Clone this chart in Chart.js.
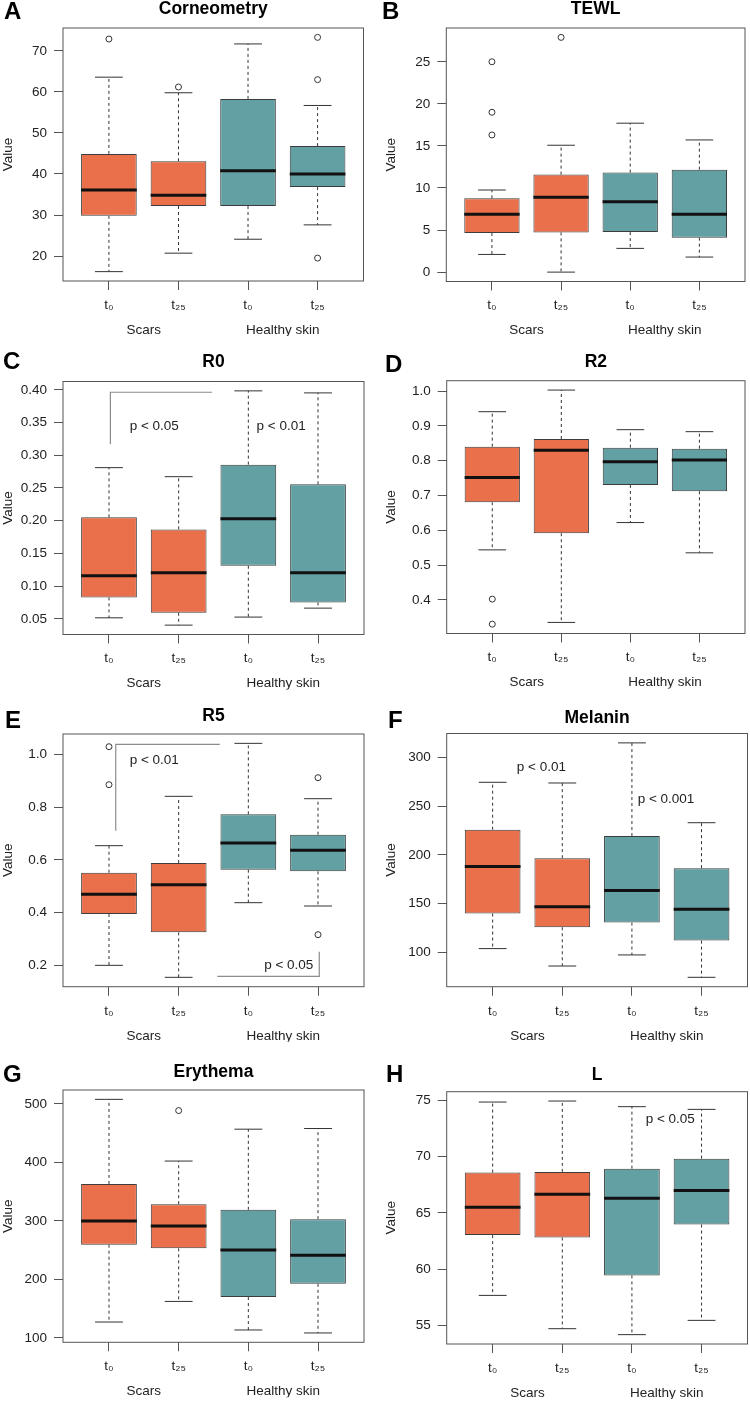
<!DOCTYPE html>
<html><head><meta charset="utf-8">
<script src="https://cdn.jsdelivr.net/npm/chart.js@4.4.1/dist/chart.umd.min.js"></script>
<style>
html,body{margin:0;padding:0;background:#fff;}
body{width:750px;height:1402px;position:relative;overflow:hidden;}
canvas{position:absolute;}
</style></head><body>
<script>
// ---------- DATA ----------
const timeLabels = ['t\u2080','t\u2082\u2085','t\u2080','t\u2082\u2085'];
const groupLabels = ['Scars','Healthy skin'];
const groupPositions = [1.5, 3.5];
const boxColors = ['#EA6F4B','#EA6F4B','#62A0A3','#62A0A3'];

// each box: [lower whisker, Q1, median, Q3, upper whisker]
const corneometryStats = [[16.2,29.8,36.1,44.9,63.6],[20.7,32.2,34.8,43.1,59.8],[24.1,32.2,40.8,58.3,71.7],[27.6,36.8,40.0,46.8,56.7]];
const corneometryOutliers = [[72.9],[61.2],[],[73.3,63.0,19.5]];
const corneometryTicks = [20,30,40,50,60,70];
const corneometryTickLabels = ['20','30','40','50','60','70'];

const tewlStats = [[2.1,4.64,6.87,8.77,9.76],[0,4.72,8.89,11.59,15.08],[2.82,4.76,8.37,11.83,17.7],[1.79,4.09,6.87,12.18,15.71]];
const tewlOutliers = [[25.0,19.0,16.3],[27.9],[],[]];
const tewlTicks = [0,5,10,15,20,25];
const tewlTickLabels = ['0','5','10','15','20','25'];

const r0Stats = [[0.0515,0.0827,0.1158,0.2051,0.2811],[0.0403,0.0592,0.1204,0.1867,0.2673],[0.0526,0.1311,0.2031,0.2857,0.3985],[0.0663,0.075,0.1204,0.2556,0.3954]];
const r0Outliers = [[],[],[],[]];
const r0Ticks = [0.05,0.10,0.15,0.20,0.25,0.30,0.35,0.40];
const r0TickLabels = ['0.05','0.10','0.15','0.20','0.25','0.30','0.35','0.40'];
const r0Brackets = [[[1.02,0.317],[1.02,0.3964],[2.48,0.3964]]];
const r0PValues = [['p < 0.05',1.65,0.345],['p < 0.01',3.47,0.345]];

const r2Stats = [[0.5435,0.6804,0.7512,0.8402,0.9407],[0.3349,0.5914,0.8297,0.8622,1.0029],[0.622,0.7301,0.7971,0.8373,0.889],[0.535,0.712,0.8019,0.8344,0.8833]];
const r2Outliers = [[0.402,0.330],[],[],[]];
const r2Ticks = [0.4,0.5,0.6,0.7,0.8,0.9,1.0];
const r2TickLabels = ['0.4','0.5','0.6','0.7','0.8','0.9','1.0'];

const r5Stats = [[0.2,0.3946,0.4692,0.5513,0.6537],[0.1545,0.3251,0.5059,0.588,0.8408],[0.4376,0.5627,0.6638,0.7725,1.0417],[0.425,0.5564,0.636,0.6954,0.8319]];
const r5Outliers = [[1.029,0.885],[],[],[0.9115,0.3163]];
const r5Ticks = [0.2,0.4,0.6,0.8,1.0];
const r5TickLabels = ['0.2','0.4','0.6','0.8','1.0'];
const r5Brackets = [[[1.097,0.7106],[1.097,1.0379],[2.59,1.0379]],[[2.556,0.1583],[4.018,0.1583],[4.018,0.2518]]];
const r5PValues = [['p < 0.01',1.65,0.9785],['p < 0.05',3.58,0.1987]];

const melaninStats = [[103.8,139.8,188.2,225.9,274.6],[85.9,125.7,146.7,196.7,273.9],[97.3,130.5,163.5,219.4,315.1],[74.3,112.0,144.3,186.4,233.1]];
const melaninOutliers = [[],[],[],[]];
const melaninTicks = [100,150,200,250,300];
const melaninTickLabels = ['100','150','200','250','300'];
const melaninPValues = [['p < 0.01',1.70,290],['p < 0.001',3.49,256.8]];

const erythemaStats = [[127.2,259.4,299.7,363.3,507.9],[162.4,253.2,291.2,328.6,402.4],[113.6,169.8,250.4,319.0,456.9],[108.5,192.5,241.3,303.1,458.0]];
const erythemaOutliers = [[],[488.7],[],[]];
const erythemaTicks = [100,200,300,400,500];
const erythemaTickLabels = ['100','200','300','400','500'];

const lStats = [[57.66,63.02,65.5,68.58,74.85],[54.7,62.81,66.66,68.64,74.94],[54.17,59.44,66.3,68.93,74.44],[55.44,63.96,66.98,69.82,74.2]];
const lOutliers = [[],[],[],[]];
const lTicks = [55,60,65,70,75];
const lTickLabels = ['55','60','65','70','75'];
const lPValues = [['p < 0.05',3.55,73.28]];

// ---------- LAYOUT ----------
const FONT = "'Liberation Sans', Arial, Helvetica, sans-serif";
const TXT = 13.5;
const panels = [
  {letter:'A', title:'Corneometry', stats:corneometryStats, outliers:corneometryOutliers, ticks:corneometryTicks, tickLabels:corneometryTickLabels, brackets:[], pvals:[],
   cx:0, cy:0, cw:375, ch:340, L:63, R:363.5, T:28, B:281, titleY:9, letterX:4, letterY:12.5, vPad:0},
  {letter:'B', title:'TEWL', stats:tewlStats, outliers:tewlOutliers, ticks:tewlTicks, tickLabels:tewlTickLabels, brackets:[], pvals:[],
   cx:375, cy:0, cw:375, ch:340, L:446.3, R:747, T:28, B:281.5, titleY:9, letterX:382, letterY:12.5, vPad:7.7},
  {letter:'C', title:'R0', stats:r0Stats, outliers:r0Outliers, ticks:r0Ticks, tickLabels:r0TickLabels, brackets:r0Brackets, pvals:r0PValues,
   cx:0, cy:340, cw:375, ch:355, L:63, R:364, T:381.5, B:634.5, titleY:362.5, letterX:3, letterY:362.5, vPad:0},
  {letter:'D', title:'R2', stats:r2Stats, outliers:r2Outliers, ticks:r2Ticks, tickLabels:r2TickLabels, brackets:[], pvals:[],
   cx:375, cy:340, cw:375, ch:355, L:446.7, R:746.5, T:380.7, B:633.5, titleY:362, letterX:385, letterY:365, vPad:7.7},
  {letter:'E', title:'R5', stats:r5Stats, outliers:r5Outliers, ticks:r5Ticks, tickLabels:r5TickLabels, brackets:r5Brackets, pvals:r5PValues,
   cx:0, cy:695, cw:375, ch:350, L:63, R:364, T:734, B:986.7, titleY:716, letterX:5, letterY:721.5, vPad:0},
  {letter:'F', title:'Melanin', stats:melaninStats, outliers:melaninOutliers, ticks:melaninTicks, tickLabels:melaninTickLabels, brackets:[], pvals:melaninPValues,
   cx:375, cy:695, cw:375, ch:350, L:446.7, R:747.5, T:733.5, B:986.7, titleY:718, letterX:388, letterY:721, vPad:7.7},
  {letter:'G', title:'Erythema', stats:erythemaStats, outliers:erythemaOutliers, ticks:erythemaTicks, tickLabels:erythemaTickLabels, brackets:[], pvals:[],
   cx:0, cy:1045, cw:375, ch:357, L:63, R:364, T:1090, B:1342.3, titleY:1072, letterX:3, letterY:1075, vPad:0},
  {letter:'H', title:'L', stats:lStats, outliers:lOutliers, ticks:lTicks, tickLabels:lTickLabels, brackets:[], pvals:lPValues,
   cx:375, cy:1045, cw:375, ch:357, L:446.7, R:747.5, T:1091.7, B:1344, titleY:1075.5, letterX:386, letterY:1075.5, vPad:7.7}
];

function buildChart(p) {
  const cv = document.createElement('canvas');
  cv.width = p.cw; cv.height = p.ch;
  cv.style.left = p.cx + 'px'; cv.style.top = p.cy + 'px';
  cv.style.width = p.cw + 'px'; cv.style.height = p.ch + 'px';
  document.body.appendChild(cv);

  const n = p.stats.length;
  const xMin = 0.5 - 0.04 * n, xMax = n + 0.5 + 0.04 * n;
  const vals = p.stats.flat().concat(p.outliers.flat());
  const lo = Math.min(...vals), hi = Math.max(...vals);
  const yMin = lo - (hi - lo) * 0.04, yMax = hi + (hi - lo) * 0.04;

  const whiskers = [], caps = [], medians = [], outs = [];
  p.stats.forEach((s, i) => {
    const x = i + 1;
    whiskers.push({x, y:s[3]}, {x, y:s[4]}, {x, y:null}, {x, y:s[1]}, {x, y:s[0]}, {x, y:null});
    caps.push({x:x-0.2, y:s[4]}, {x:x+0.2, y:s[4]}, {x:x+0.2, y:null}, {x:x-0.2, y:s[0]}, {x:x+0.2, y:s[0]}, {x:x+0.2, y:null});
    medians.push({x:x-0.4, y:s[2]}, {x:x+0.4, y:s[2]}, {x:x+0.4, y:null});
  });
  p.outliers.forEach((arr, i) => arr.forEach(v => outs.push({x:i+1, y:v})));

  const datasets = [
    {type:'bar', data:p.stats.map((s,i)=>({x:i+1, y:[s[1], s[3]]})), backgroundColor:boxColors, borderColor:'#3c3c3c',
     borderWidth:1, borderSkipped:false, categoryPercentage:0.8, barPercentage:1, order:3},
    {type:'line', data:whiskers, borderColor:'#333', borderWidth:1, borderDash:[3,3], pointRadius:0, fill:false, spanGaps:false, order:5},
    {type:'line', data:caps, borderColor:'#333', borderWidth:1, pointRadius:0, fill:false, spanGaps:false, order:4},
    {type:'line', data:medians, borderColor:'#111', borderWidth:3, borderCapStyle:'butt', pointRadius:0, fill:false, spanGaps:false, order:1},
    {type:'line', data:outs, showLine:false, pointStyle:'circle', pointRadius:3, pointBorderWidth:1,
     pointBorderColor:'#333', pointBackgroundColor:'rgba(255,255,255,0)', order:0}
  ];
  p.brackets.forEach(br => datasets.push({type:'line', data:br.map(q=>({x:q[0], y:q[1]})), borderColor:'#8c8c8c',
     borderWidth:1.2, pointRadius:0, fill:false, order:2}));

  const decor = {
    id:'decor',
    afterDraw(chart) {
      const ctx = chart.ctx, a = chart.chartArea;
      const xs = chart.scales.x, ys = chart.scales.y;
      ctx.save();
      ctx.strokeStyle = '#555'; ctx.lineWidth = 1;
      ctx.strokeRect(a.left, a.top, a.right - a.left, a.bottom - a.top);
      ctx.fillStyle = '#222';
      ctx.font = TXT + 'px ' + FONT; ctx.textAlign = 'center'; ctx.textBaseline = 'middle';
      p.pvals.forEach(pv => ctx.fillText(pv[0], xs.getPixelForValue(pv[1]), ys.getPixelForValue(pv[2])));
      ctx.fillStyle = '#000';
      ctx.font = 'bold 17.5px ' + FONT;
      ctx.fillText(p.title, (a.left + a.right) / 2, p.titleY - p.cy);
      ctx.font = 'bold 24px ' + FONT; ctx.textAlign = 'left';
      ctx.fillText(p.letter, p.letterX - p.cx, p.letterY - p.cy);
      ctx.restore();
    }
  };

  const tickFont = {size:TXT, family:FONT};
  new Chart(cv, {
    type:'bar',
    data:{datasets},
    options:{
      responsive:false, maintainAspectRatio:false, animation:false, devicePixelRatio:1,
      events:[],
      layout:{padding:{left:0, top:p.T - p.cy, right:p.cx + p.cw - p.R, bottom:p.cy + p.ch - p.B - 55}},
      plugins:{legend:{display:false}, tooltip:{enabled:false}, title:{display:false}},
      scales:{
        x:{type:'linear', min:xMin, max:xMax, offset:false, position:'bottom', weight:0,
           grid:{display:true, drawOnChartArea:false, drawTicks:true, tickLength:9, color:'#555', offset:false},
           border:{display:false},
           ticks:{font:tickFont, color:'#222', padding:7, autoSkip:false, maxRotation:0, minRotation:0,
                  callback:(v, i) => timeLabels[i]},
           afterBuildTicks:s => { s.ticks = timeLabels.map((_, i) => ({value:i + 1})); },
           afterFit:s => { s.height = 30; }},
        xg:{type:'linear', axis:'x', min:xMin, max:xMax, offset:false, position:'bottom', weight:1,
           grid:{display:false, drawTicks:false, tickLength:0}, border:{display:false},
           ticks:{font:tickFont, color:'#222', padding:11, autoSkip:false, maxRotation:0, minRotation:0,
                  callback:(v, i) => groupLabels[i]},
           afterBuildTicks:s => { s.ticks = groupPositions.map(v => ({value:v})); },
           afterFit:s => { s.height = 25; }},
        y:{type:'linear', min:yMin, max:yMax, position:'left',
           grid:{display:true, drawOnChartArea:false, drawTicks:true, tickLength:9, color:'#555'},
           border:{display:false},
           ticks:{font:tickFont, color:'#222', padding:7, autoSkip:false, callback:(v, i) => p.tickLabels[i]},
           afterBuildTicks:s => { s.ticks = p.ticks.map(v => ({value:v})); },
           afterFit:s => { s.width = p.L - p.cx; },
           title:{display:true, text:'Value', font:{size:TXT, family:FONT}, color:'#222', padding:{top:p.vPad, bottom:0}}}
      }
    },
    plugins:[decor]
  });
}
panels.forEach(buildChart);
</script>
</body></html>
